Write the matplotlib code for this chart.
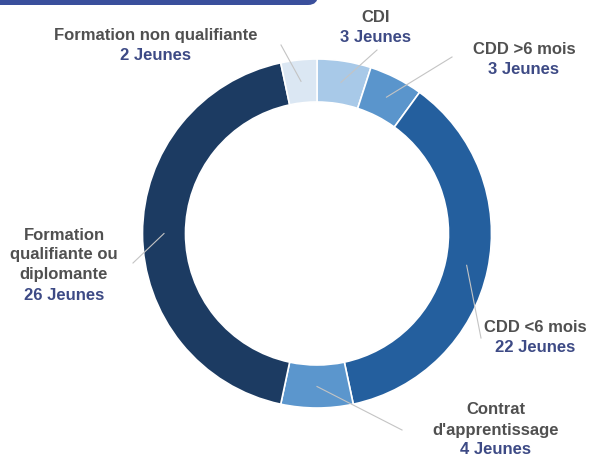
import matplotlib
matplotlib.use("Agg")
import matplotlib.pyplot as plt
from matplotlib.patches import FancyBboxPatch
import numpy as np

# ---- data ----
categories = ["CDI", "CDD >6 mois", "CDD <6 mois", "Contrat\nd'apprentissage",
              "Formation\nqualifiante ou\ndiplomante", "Formation non qualifiante"]
values = [3, 3, 22, 4, 26, 2]
value_labels = [f"{v} Jeunes" for v in values]

colors = ["#a8c9e8", "#5a95cc", "#245f9e", "#5b96cd", "#1c3b62", "#dbe7f3"]

# ---- layout (pixel coords, top-left origin) ----
W, H = 597, 458
cx, cy = 317, 233.5
R, ring = 174.5, 43
label_pos = [(376, 18), (524, 50), (535, 328), (496, 410), (64, 235), (156, 35.5)]
line_end = [(377, 50), (452, 57), (481, 338), (402, 430), (133, 263), (281, 45)]
step = 20

fig = plt.figure(figsize=(W / 100, H / 100), dpi=100)
ax = fig.add_axes([0, 0, 1, 1])
ax.set_xlim(0, W)
ax.set_ylim(0, H)
ax.axis("off")

def fy(y):
    return H - y

wedges, _ = ax.pie(values, colors=colors, startangle=90, counterclock=False,
                   center=(cx, fy(cy)), radius=R,
                   wedgeprops=dict(width=ring, edgecolor="white", linewidth=1.2))
ax.set_xlim(0, W)
ax.set_ylim(0, H)
ax.set_aspect("equal")

label_font = dict(family=["Liberation Sans", "DejaVu Sans"], weight="bold", fontsize=12)
grey = "#505050"
navy = "#3d4a85"

rmid = R - ring / 2
for w, cat, vl, (lx, ly), (ex, ey) in zip(wedges, categories, value_labels, label_pos, line_end):
    ang = np.deg2rad((w.theta1 + w.theta2) / 2)
    sx = cx + rmid * np.cos(ang)
    sy = fy(cy) + rmid * np.sin(ang)
    ax.plot([sx, ex], [sy, fy(ey)], color="#c4c4c4", lw=0.8, zorder=3)
    lines = cat.split("\n")
    for i, t in enumerate(lines):
        ax.text(lx, fy(ly + i * step), t, color=grey, ha="center", va="center", **label_font)
    ax.text(lx, fy(ly + len(lines) * step), vl, color=navy, ha="center", va="center", **label_font)

# banner at top-left
banner = FancyBboxPatch((-30, fy(5)), 348, 40,
                        boxstyle="round,pad=0,rounding_size=10",
                        facecolor="#3a4f9c", edgecolor="none", clip_on=True)
ax.add_patch(banner)

fig.savefig("out.png", dpi=100, facecolor="white")
